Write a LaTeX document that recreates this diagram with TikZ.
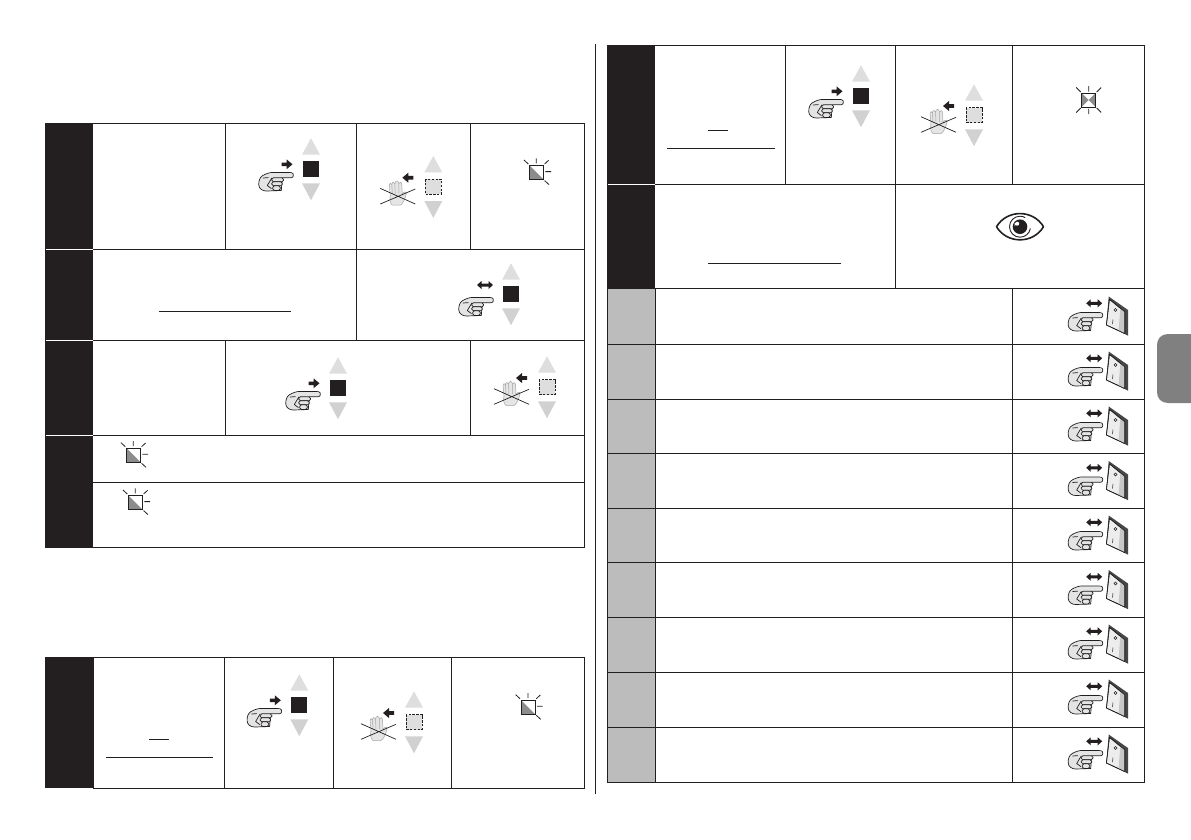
\documentclass[tikz,border=0pt]{standalone}
\definecolor{inkd}{HTML}{231F20}
\definecolor{lightcol}{HTML}{BCBCBC}
\definecolor{tabgray}{HTML}{808080}
\definecolor{handfill}{HTML}{E4E4E4}
\tikzset{
  x=1pt,y=-1pt,
  tline/.style={draw=inkd,line width=1pt},
  darkcell/.style={fill=inkd,draw=none},
  lightcell/.style={fill=lightcol,draw=none},
  sepw/.style={draw=white,line width=1pt},
  hand/.pic={
    \draw[inkd,fill=handfill,line width=0.7pt,line join=round]
      (-20.5,-2.6) -- (-2,-2.4) .. controls (0.8,-2.2) and (0.8,2.6) .. (-2,2.8) -- (-11,2.8)
      -- (-12,15.5) -- (-27,16) .. controls (-31,16) and (-34.3,13.5) .. (-34.5,10)
      .. controls (-34.8,6) and (-33.5,2.5) .. (-31,0.8) .. controls (-28,-1) and (-24,-2.6) .. (-20.5,-2.6) -- cycle;
    \draw[inkd,line width=0.7pt,fill=handfill,rounded corners=1.6pt]
      (-21.5,2.8) rectangle (-9.7,6.8);
    \draw[inkd,line width=0.7pt,fill=handfill,rounded corners=1.6pt]
      (-21.5,6.8) rectangle (-11,10.8);
    \draw[inkd,line width=0.7pt,fill=handfill,rounded corners=1.6pt]
      (-20.5,10.8) rectangle (-13,15.5);
    \draw[inkd,line width=0.7pt,line join=round,line cap=round] (-21.5,3) -- (-26,10.5) -- (-22,13.5)
      (-30,3) -- (-25,2.6);
  },
  arrowr/.pic={
    \fill[inkd] (-5.5,-1.8) -- (-0.5,-1.8) -- (-0.5,-5) -- (5.5,0) -- (-0.5,5) -- (-0.5,1.8) -- (-5.5,1.8) -- cycle;
  },
  arrowl/.pic={
    \fill[inkd] (5.5,-1.8) -- (0.5,-1.8) -- (0.5,-5) -- (-5.5,0) -- (0.5,5) -- (0.5,1.8) -- (5.5,1.8) -- cycle;
  },
  arrowd/.pic={
    \fill[inkd] (-8,0) -- (-3.5,-4) -- (-3.5,-1.5) -- (3.5,-1.5) -- (3.5,-4) -- (8,0) -- (3.5,4) -- (3.5,1.5) -- (-3.5,1.5) -- (-3.5,4) -- cycle;
  },
  tris/.pic={
    \fill[black!13] (0,-30.7) -- (9,-14.3) -- (-9,-14.3) -- cycle;
    \fill[black!18] (0,31.2) -- (9,14.3) -- (-9,14.3) -- cycle;
  },
  press/.pic={
    \pic at (0,0) {tris};
    \fill[inkd] (-8,-8) rectangle (8,8);
    \pic at (-17.7,6) {hand};
    \pic at (-24,-4.7) {arrowr};
  },
  pressd/.pic={
    \pic at (0,0) {tris};
    \fill[inkd] (-8,-8) rectangle (8,8);
    \pic at (-17.7,6) {hand};
    \pic at (-26,-9) {arrowd};
  },
  release/.pic={
    \pic at (0,0) {tris};
    \draw[inkd,fill=black!13,line width=0.7pt,dash pattern=on 2.4pt off 1.4pt] (-8,-7.5) rectangle (8,7.5);
    \pic at (-25.5,-9) {arrowl};
    \draw[black!35,fill=black!10,line width=0.5pt,line join=round]
      (-43,9) -- (-44,-2) .. controls (-44,-4) and (-42,-4) .. (-41.5,-2)
      .. controls (-41.5,-5) and (-39,-5.5) .. (-38.5,-3)
      .. controls (-38,-6.5) and (-35,-6.5) .. (-34.5,-3)
      .. controls (-34,-5) and (-31.5,-5) .. (-31.5,-2) -- (-31,8)
      .. controls (-30,5) and (-27,4) .. (-27,7) .. controls (-28,12) and (-31,18) .. (-33,18.5)
      -- (-41,18.5) .. controls (-43,17) and (-44,13) .. (-43,9) -- cycle;
    \draw[black!35,line width=0.5pt] (-41.5,-2) -- (-41,7) (-38.5,-3) -- (-38,7) (-34.5,-3) -- (-34.5,7);
    \draw[inkd,line width=0.7pt] (-53,1.7) -- (-18,17.3) (-53,17.3) -- (-18,2.3);
  },
  raycore/.style={inkd,line width=0.8pt},
  ledhalf/.pic={
    \fill[black!45] (-7,-7) -- (7,7) -- (-7,7) -- cycle;
    \draw[inkd,line width=1pt] (-7,-7) rectangle (7,7);
    \draw[raycore] (-12.3,-12.3) -- (-8,-8.3) (0,-14) -- (0,-9) (12.3,-12) -- (8.3,-8.3)
      (9,-0.7) -- (14.7,-0.7) (8.3,8.3) -- (12.7,12.3);
  },
  ledstar/.pic={
    \fill[black!45] (-7,-7) -- (0,0) -- (-7,7) -- cycle;
    \fill[black!45] (7,-7) -- (0,0) -- (7,7) -- cycle;
    \draw[inkd,line width=1pt] (-7,-7) rectangle (7,7);
    \draw[raycore] (-12.5,-12.5) -- (-8,-8) (0,-14) -- (0,-8.5) (12.5,-12.5) -- (8,-8)
      (-12.5,12.5) -- (-8,8) (0,14) -- (0,8.5) (12.5,12.5) -- (8,8);
  },
  eyeicon/.pic={
    \draw[inkd,line width=1.6pt,line join=round] (-23.5,0) .. controls (-13,-17.5) and (13,-17.5) .. (23.5,0)
      .. controls (13,17.5) and (-13,17.5) .. (-23.5,0) -- cycle;
    \draw[inkd,line width=0.9pt] (-10.5,0) arc[start angle=180,end angle=60,x radius=10.5,y radius=-10.5];
    \draw[inkd,line width=0.9pt] (-10.5,0) arc[start angle=180,end angle=350,x radius=10.5,y radius=-10.5];
    \fill[inkd] (0,0) circle[radius=7.3];
    \fill[white] (-1.5,-3.5) -- (-5.5,-3.5) -- (-5.5,-0.5) .. controls (-5,-2) and (-3,-3) .. (-1.5,-3.5) -- cycle;
    \fill[white] (-2.8,-3) circle[radius=2];
  },
  toggle/.pic={
    \pic at (0,0) {hand};
    \pic at (-8.5,-11.7) {arrowd};
    \fill[black!72] (6,-18.5) -- (25.3,-5) -- (25.3,20.7) -- (3.7,10) -- cycle;
    \draw[inkd,fill=black!7,line width=0.6pt,line join=round] (6.7,-15.7) -- (22,-3.2) -- (22,18.5) -- (3.7,10) -- cycle;
    \fill[black!22] (17.7,-6.9) -- (22,-3.2) -- (22,18.5) -- (15.8,15.6) -- cycle;
    \draw[inkd,line width=0.6pt,line join=round] (6.7,-15.7) -- (22,-3.2) -- (22,18.5) -- (3.7,10) -- cycle;
    \draw[inkd,line width=0.5pt] (12.7,-5) circle[radius=1.5];
    \draw[inkd,line width=0.5pt] (10.3,4.5) -- (9.8,9);
  },
}
\begin{document}
\begin{tikzpicture}
\useasboundingbox[fill=white] (0,0) rectangle (1191,839);
% ---------- table 1
\fill[darkcell] (45,123) rectangle (93,547.5);
\draw[tline] (93,123.5) -- (584.5,123.5) -- (584.5,547.5) -- (93,547.5);
\draw[tline] (93,249.5) -- (584.5,249.5);
\draw[tline] (93,340.5) -- (584.5,340.5);
\draw[tline] (93,435.5) -- (584.5,435.5);
\draw[tline] (93,482.5) -- (584.5,482.5);
\draw[tline] (225.5,123.5) -- (225.5,249.5);
\draw[tline] (356.5,123.5) -- (356.5,340.5);
\draw[tline] (470.5,123.5) -- (470.5,249.5);
\draw[tline] (225.5,340.5) -- (225.5,435.5);
\draw[tline] (470.5,340.5) -- (470.5,435.5);
\draw[sepw] (46,249.5) -- (93,249.5);
\draw[sepw] (46,340.5) -- (93,340.5);
\draw[sepw] (46,435.5) -- (93,435.5);
\draw[inkd,line width=0.8pt] (159,311.3) -- (291,311.3);
\pic at (311,169) {press};
\pic at (433.3,186.7) {release};
\pic at (536.3,172.3) {ledhalf};
\pic at (511,294) {pressd};
\pic at (338,388) {press};
\pic at (547,387) {release};
\pic at (133.3,455) {ledhalf};
\pic at (135.3,502.3) {ledhalf};
% ---------- table 2
\fill[darkcell] (45,657) rectangle (93,788);
\draw[tline] (93,657.5) -- (584,657.5) -- (584,788.5) -- (93,788.5) -- cycle;
\draw[tline] (224.5,657.5) -- (224.5,788.5);
\draw[tline] (333.5,657.5) -- (333.5,788.5);
\draw[tline] (451.5,657.5) -- (451.5,788.5);
\draw[inkd,line width=0.8pt] (149,739.3) -- (169,739.3);
\draw[inkd,line width=0.8pt] (106,757.3) -- (213,757.3);
\pic at (299.3,705) {press};
\pic at (414,722) {release};
\pic at (528,707) {ledhalf};
% ---------- centre rule
\draw[inkd,line width=0.8pt] (595.5,44) -- (595.5,794);
% ---------- table 3
\fill[darkcell] (607,45) rectangle (655,288.5);
\fill[lightcell] (607.5,288.5) rectangle (655,782);
\draw[tline] (655,45.5) -- (1144.5,45.5) -- (1144.5,782.5) -- (607.5,782.5) -- (607.5,288.5);
\draw[tline] (655.5,288.5) -- (655.5,782.5);
\draw[sepw] (608,184.5) -- (655,184.5);
\foreach \yy in {344,399,453.5,508,562.5,617,672,727}{
  \draw[tline] (607.5,\yy) -- (1144.5,\yy);
}
\draw[tline] (655,184.5) -- (1144.5,184.5);
\draw[tline] (655,288.5) -- (1144.5,288.5);
\draw[tline] (785.5,45.5) -- (785.5,184.5);
\draw[tline] (895.5,45.5) -- (895.5,288.5);
\draw[tline] (1012.5,45.5) -- (1012.5,184.5);
\draw[tline] (1012.5,288.5) -- (1012.5,782.5);
\draw[inkd,line width=0.8pt] (708,130.5) -- (728,130.5);
\draw[inkd,line width=0.8pt] (667,148.5) -- (775,148.5);
\draw[inkd,line width=0.8pt] (708,263.5) -- (841,263.5);
\pic at (861,96) {press};
\pic at (974,115) {release};
\pic at (1088.7,100) {ledstar};
\pic at (1020,226.7) {eyeicon};
\foreach \yy in {315,370,425,479.5,534,588.5,643,698,753}{
  \pic at (1102.7,\yy) {toggle};
}
% ---------- side tab
\fill[tabgray] (1191,334) -- (1168,334) .. controls (1161,334) and (1157,339) .. (1157,345)
  -- (1157,392) .. controls (1157,398) and (1161,403) .. (1168,403) -- (1191,403) -- cycle;
\end{tikzpicture}
\end{document}
